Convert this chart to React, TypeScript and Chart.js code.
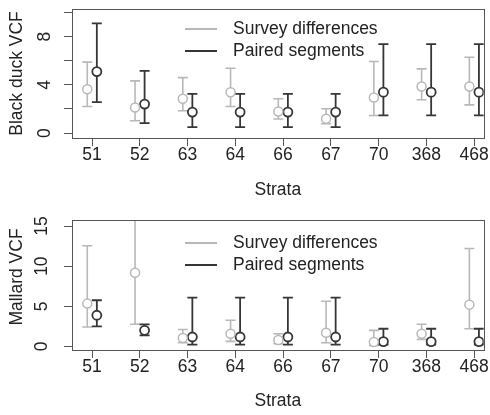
import React, { useEffect, useRef } from 'react';
import { Chart, registerables } from 'chart.js';

Chart.register(...registerables);

// ---------- data ----------
const strata = ['51', '52', '63', '64', '66', '67', '70', '368', '468'];

const blackSurveyMean = [3.64, 2.12, 2.84, 3.39, 1.79, 1.18, 2.95, 3.86, 3.86];
const blackSurveyLow = [2.2, 1.02, 1.85, 2.2, 1.16, 0.77, 1.46, 2.76, 2.34];
const blackSurveyHigh = [5.88, 4.33, 4.6, 5.38, 2.84, 2.01, 5.93, 5.32, 6.29];

const blackPairedMean = [5.1, 2.4, 1.74, 1.74, 1.74, 1.74, 3.39, 3.39, 3.39];
const blackPairedLow = [2.57, 0.83, 0.5, 0.5, 0.5, 0.5, 1.46, 1.46, 1.46];
const blackPairedHigh = [9.1, 5.16, 3.25, 3.25, 3.25, 3.25, 7.37, 7.37, 7.37];

const mallardSurveyMean = [5.33, 9.17, 1.04, 1.58, 0.8, 1.71, 0.54, 1.58, 5.2];
const mallardSurveyLow = [2.42, 2.75, 0.46, 0.63, 0.33, 0.46, 0.13, 0.88, 2.2];
const mallardSurveyHigh = [12.54, 17, 2.1, 3.25, 1.58, 5.63, 2.0, 2.75, 12.2];

const mallardPairedMean = [3.88, 2.0, 1.17, 1.17, 1.17, 1.17, 0.6, 0.6, 0.6];
const mallardPairedLow = [2.5, 1.38, 0.21, 0.21, 0.21, 0.21, 0.21, 0.21, 0.21];
const mallardPairedHigh = [5.75, 2.75, 6.08, 6.08, 6.08, 6.08, 2.2, 2.2, 2.2];

const blackTicks = [0, 2, 4, 6, 8, 10];
const blackTickLabels = ['0', '', '4', '', '8', ''];
const mallardTicks = [0, 5, 10, 15];
const mallardTickLabels = ['0', '5', '10', '15'];

const seriesNames = ['Survey differences', 'Paired segments'];

// ---------- styles ----------
const FONT = '"Liberation Sans", Arial, Helvetica, sans-serif';
const FSIZE = 17.5;
const GRAY = '#b8b8b8';
const DARK = '#363636';
const AXIS = '#555555';
const TEXT = '#222222';

const errorBarPlugin = {
  id: 'errorBars',
  beforeDatasetsDraw(chart: any) {
    const { ctx, chartArea, scales } = chart;
    const x = scales.x;
    const y = scales.y;
    ctx.save();
    ctx.beginPath();
    ctx.rect(chartArea.left, chartArea.top, chartArea.right - chartArea.left, chartArea.bottom - chartArea.top);
    ctx.clip();
    chart.data.datasets.forEach((ds: any) => {
      ctx.strokeStyle = ds.borderColor;
      ctx.lineWidth = ds.errWidth;
      ds.data.forEach((p: any, i: number) => {
        const px = x.getPixelForValue(p.x);
        const yl = y.getPixelForValue(ds.errLow[i]);
        const yh = y.getPixelForValue(ds.errHigh[i]);
        const cap = 5;
        ctx.beginPath();
        ctx.moveTo(px, yl);
        ctx.lineTo(px, yh);
        ctx.moveTo(px - cap, yl);
        ctx.lineTo(px + cap, yl);
        ctx.moveTo(px - cap, yh);
        ctx.lineTo(px + cap, yh);
        ctx.stroke();
      });
    });
    ctx.restore();
  },
};

const boxPlugin = {
  id: 'plotBox',
  afterDraw(chart: any) {
    const { ctx, chartArea } = chart;
    ctx.save();
    ctx.strokeStyle = AXIS;
    ctx.lineWidth = 1;
    ctx.strokeRect(
      Math.round(chartArea.left) + 0.5,
      Math.round(chartArea.top) + 0.5,
      Math.round(chartArea.right - chartArea.left),
      Math.round(chartArea.bottom - chartArea.top)
    );
    ctx.restore();
  },
};

const insetLegendPlugin = {
  id: 'insetLegend',
  afterDatasetsDraw(chart: any, _args: any, opts: any) {
    const { ctx, chartArea } = chart;
    ctx.save();
    ctx.font = `${FSIZE}px ${FONT}`;
    ctx.textBaseline = 'middle';
    ctx.textAlign = 'left';
    chart.data.datasets.forEach((ds: any, i: number) => {
      const yy = chartArea.top + opts.dy[i];
      const x0 = chartArea.left + opts.dx;
      ctx.strokeStyle = ds.borderColor;
      ctx.lineWidth = 2;
      ctx.beginPath();
      ctx.moveTo(x0, yy);
      ctx.lineTo(x0 + 32, yy);
      ctx.stroke();
      ctx.fillStyle = TEXT;
      ctx.fillText(ds.label, x0 + 48, yy);
    });
    ctx.restore();
  },
};

const yTitlePlugin = {
  id: 'yTitle',
  afterDraw(chart: any, _args: any, opts: any) {
    const { ctx, chartArea } = chart;
    ctx.save();
    ctx.font = `${FSIZE}px ${FONT}`;
    ctx.fillStyle = TEXT;
    ctx.textAlign = 'center';
    ctx.textBaseline = 'middle';
    ctx.translate(opts.x, (chartArea.top + chartArea.bottom) / 2 + opts.dy);
    ctx.rotate(-Math.PI / 2);
    ctx.fillText(opts.text, 0, 0);
    ctx.restore();
  },
};

type PanelProps = {
  yTitle: string;
  surveyMean: number[];
  surveyLow: number[];
  surveyHigh: number[];
  pairedMean: number[];
  pairedLow: number[];
  pairedHigh: number[];
  yMin: number;
  yMax: number;
  yTicks: number[];
  yTickLabels: string[];
  height: number;
  padTop: number;
  xAxisHeight: number;
  yTickPad: number;
  xTitlePad: number;
  legendDy: number[];
  yTitleDy: number;
};

function Panel(props: PanelProps) {
  const ref = useRef<HTMLCanvasElement | null>(null);
  useEffect(() => {
    if (!ref.current) return;
    const mk = (vals: number[], off: number) => vals.map((v, i) => ({ x: i + 1 + off, y: v }));
    const chart = new Chart(ref.current, {
      type: 'scatter',
      data: {
        datasets: [
          {
            label: seriesNames[0],
            data: mk(props.surveyMean, -0.1),
            borderColor: GRAY,
            backgroundColor: '#ffffff',
            pointRadius: 4.5,
            pointBorderWidth: 1.5,
            pointStyle: 'circle',
            errLow: props.surveyLow,
            errHigh: props.surveyHigh,
            errWidth: 1.6,
          } as any,
          {
            label: seriesNames[1],
            data: mk(props.pairedMean, 0.1),
            borderColor: DARK,
            backgroundColor: '#ffffff',
            pointRadius: 4.5,
            pointBorderWidth: 1.8,
            pointStyle: 'circle',
            errLow: props.pairedLow,
            errHigh: props.pairedHigh,
            errWidth: 1.8,
          } as any,
        ],
      },
      options: {
        responsive: false,
        animation: false,
        devicePixelRatio: 1,
        layout: { padding: { top: props.padTop, right: 4, left: 0, bottom: 0 } },
        plugins: {
          legend: { display: false },
          tooltip: { enabled: false },
          insetLegend: { dx: 113, dy: props.legendDy },
          yTitle: { text: props.yTitle, x: 17, dy: props.yTitleDy },
        } as any,
        scales: {
          x: {
            type: 'linear',
            min: 0.58,
            max: 9.2,
            afterBuildTicks: (s: any) => {
              s.ticks = strata.map((_, i) => ({ value: i + 1 }));
            },
            afterFit: (s: any) => {
              s.height = props.xAxisHeight;
              s.paddingLeft = 0;
              s.paddingRight = 0;
            },
            ticks: {
              callback: (v: any) => strata[Math.round(Number(v)) - 1] ?? '',
              font: { family: FONT, size: FSIZE },
              color: TEXT,
              padding: -1,
              maxRotation: 0,
              autoSkip: false,
            },
            grid: { display: true, drawOnChartArea: false, drawTicks: true, tickLength: 8, color: AXIS },
            border: { display: true, color: AXIS },
            title: {
              display: true,
              text: 'Strata',
              font: { family: FONT, size: FSIZE },
              color: TEXT,
              padding: props.xTitlePad,
            },
          },
          y: {
            type: 'linear',
            min: props.yMin,
            max: props.yMax,
            afterBuildTicks: (s: any) => {
              s.ticks = props.yTicks.map((v) => ({ value: v }));
            },
            afterFit: (s: any) => {
              s.width = 72;
              s.paddingTop = 0;
              s.paddingBottom = 0;
            },
            ticks: {
              callback: (v: any) => {
                const idx = props.yTicks.indexOf(Number(v));
                return idx >= 0 ? props.yTickLabels[idx] : '';
              },
              font: { family: FONT, size: FSIZE },
              color: TEXT,
              minRotation: 90,
              maxRotation: 90,
              crossAlign: 'center',
              padding: props.yTickPad,
              autoSkip: false,
            },
            grid: { display: true, drawOnChartArea: false, drawTicks: true, tickLength: 8, color: AXIS },
            border: { display: true, color: AXIS },
            title: { display: false },
          },
        },
      },
      plugins: [errorBarPlugin, boxPlugin, insetLegendPlugin, yTitlePlugin],
    });
    return () => chart.destroy();
  }, []);
  return (
    <canvas
      ref={ref}
      width={490}
      height={props.height}
      style={{ display: 'block', width: 490, height: props.height }}
    />
  );
}

export default function App() {
  return (
    <div style={{ position: 'absolute', left: 0, top: 0, width: 490, height: 415, background: '#ffffff' }}>
      <Panel
        yTitle="Black duck VCF"
        surveyMean={blackSurveyMean}
        surveyLow={blackSurveyLow}
        surveyHigh={blackSurveyHigh}
        pairedMean={blackPairedMean}
        pairedLow={blackPairedLow}
        pairedHigh={blackPairedHigh}
        yMin={-0.41}
        yMax={10.29}
        yTicks={blackTicks}
        yTickLabels={blackTickLabels}
        height={207}
        padTop={9}
        xAxisHeight={69}
        yTickPad={14}
        xTitlePad={6}
        legendDy={[20, 42]}
        yTitleDy={0}
      />
      <Panel
        yTitle="Mallard VCF"
        surveyMean={mallardSurveyMean}
        surveyLow={mallardSurveyLow}
        surveyHigh={mallardSurveyHigh}
        pairedMean={mallardPairedMean}
        pairedLow={mallardPairedLow}
        pairedHigh={mallardPairedHigh}
        yMin={-0.45}
        yMax={15.75}
        yTicks={mallardTicks}
        yTickLabels={mallardTickLabels}
        height={208}
        padTop={13}
        xAxisHeight={65}
        yTickPad={12.5}
        xTitlePad={3.5}
        legendDy={[23, 45]}
        yTitleDy={-8}
      />
    </div>
  );
}
